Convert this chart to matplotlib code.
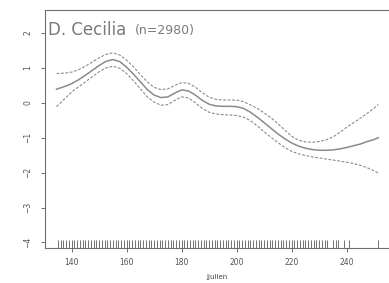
import matplotlib
matplotlib.use('Agg')
import matplotlib.pyplot as plt

# ----------------------------------------------------------------------------------------------------
# データ (Jjulien / 効果の推定値と信頼区間)
# ----------------------------------------------------------------------------------------------------
days = [134.5, 137.5, 140, 142.5, 145, 147.5, 150, 152.5, 155, 157.5,
        160, 162.5, 165, 167.5, 170, 172.5, 175, 177.5, 180, 182.5,
        185, 187.5, 190, 192.5, 195, 197.5, 200, 202.5, 205, 207.5,
        210, 212.5, 215, 217.5, 220, 222.5, 225, 227.5, 230, 232.5,
        235, 237.5, 240, 242.5, 245, 247.5, 250, 251.5]
fit = [0.39, 0.47, 0.55, 0.66, 0.79, 0.93, 1.07, 1.19, 1.24, 1.18,
       1.02, 0.82, 0.60, 0.38, 0.22, 0.15, 0.17, 0.28, 0.37, 0.34,
       0.22, 0.07, -0.04, -0.09, -0.10, -0.10, -0.11, -0.16, -0.27, -0.41,
       -0.57, -0.73, -0.89, -1.03, -1.15, -1.24, -1.30, -1.34, -1.36, -1.36,
       -1.35, -1.32, -1.28, -1.23, -1.18, -1.11, -1.05, -1.00]
upper = [0.84, 0.85, 0.88, 0.95, 1.05, 1.17, 1.29, 1.39, 1.43, 1.37,
         1.22, 1.03, 0.81, 0.60, 0.44, 0.38, 0.40, 0.50, 0.58, 0.56,
         0.45, 0.29, 0.16, 0.10, 0.08, 0.08, 0.08, 0.03, -0.06, -0.16,
         -0.29, -0.43, -0.60, -0.78, -0.96, -1.07, -1.12, -1.13, -1.11, -1.06,
         -0.98, -0.85, -0.70, -0.57, -0.44, -0.30, -0.15, -0.05]
lower = [-0.11, 0.12, 0.31, 0.46, 0.60, 0.75, 0.89, 1.00, 1.05, 0.99,
         0.84, 0.63, 0.40, 0.17, 0.02, -0.07, -0.05, 0.07, 0.17, 0.14,
         0.00, -0.16, -0.27, -0.32, -0.34, -0.35, -0.36, -0.41, -0.51, -0.66,
         -0.83, -0.99, -1.14, -1.28, -1.39, -1.46, -1.51, -1.55, -1.58, -1.61,
         -1.64, -1.67, -1.70, -1.74, -1.79, -1.86, -1.95, -2.01]

# 観測日 (rug)
rug_days = list(range(135, 234)) + [235, 236, 237, 239, 241, 251.5]

x_ticks = [140, 160, 180, 200, 220, 240]
y_ticks = [-4, -3, -2, -1, 0, 1, 2]

title = 'D. Cecilia'
subtitle = '(n=2980)'
x_label = 'Jjulien'

GRAY = '#8a8a8a'
AXIS = '#6e6e6e'

# ----------------------------------------------------------------------------------------------------
# グラフ描画
# ----------------------------------------------------------------------------------------------------
fig = plt.figure(figsize=(3.89, 2.83), dpi=100)
ax = fig.add_axes([45 / 389, 1 - 248 / 283, 344 / 389, 238 / 283])

ax.plot(days, fit, color=GRAY, lw=1.1, solid_joinstyle='round')
ax.plot(days, upper, color=GRAY, lw=0.8, linestyle=(0, (2.5, 1.5)))
ax.plot(days, lower, color=GRAY, lw=0.8, linestyle=(0, (2.5, 1.5)))

# rug
ax.vlines(rug_days, -4.16, -3.92, color='#707070', lw=0.7)

ax.set_xlim(130.3, 255.4)
ax.set_ylim(-4.16, 2.66)
ax.set_xticks(x_ticks)
ax.set_yticks(y_ticks)

ax.spines['right'].set_visible(False)
for s in ['left', 'top', 'bottom']:
	ax.spines[s].set_color(AXIS)
	ax.spines[s].set_linewidth(0.8)

ax.tick_params(axis='both', colors=AXIS, labelcolor='#555555', labelsize=5.5,
               length=3, width=0.7)
ax.tick_params(axis='y', pad=6)
ax.tick_params(axis='x', pad=4)
plt.setp(ax.get_yticklabels(), rotation=90, va='center')

ax.set_xlabel(x_label, fontsize=5, color='#444444', labelpad=5)

# タイトル (プロット内左上)
ax.text(0.008, 0.955, title, transform=ax.transAxes, fontsize=12, color='#7a7a7a',
        family='DejaVu Sans', va='top', ha='left')
ax.text(0.262, 0.94, subtitle, transform=ax.transAxes, fontsize=9, color='#7a7a7a',
        family='DejaVu Sans', va='top', ha='left')

plt.savefig('out.png', dpi=100)
plt.close(fig)
